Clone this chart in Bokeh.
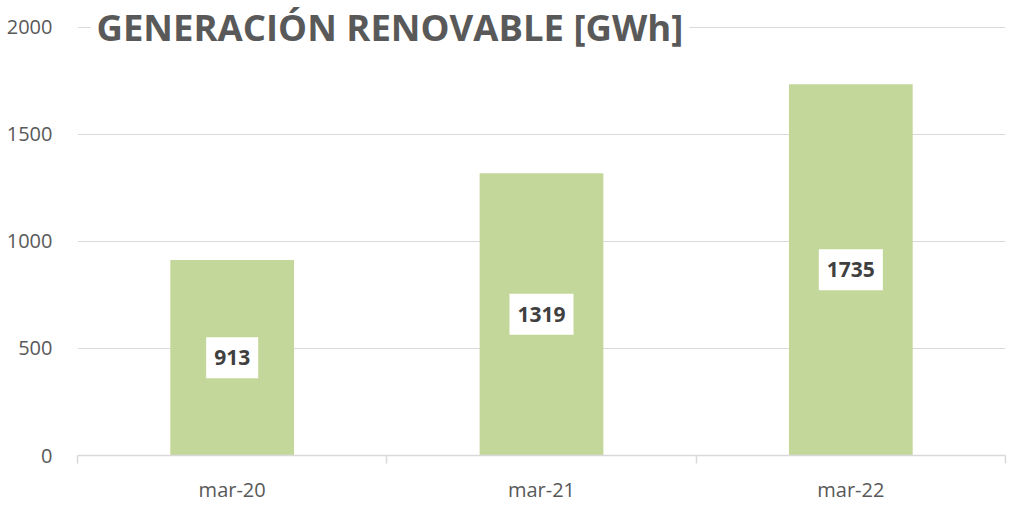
from bokeh.plotting import figure
from bokeh.models import ColumnDataSource, Label, Range1d, FixedTicker
from bokeh.embed import file_html
from bokeh.resources import INLINE

categories = ["mar-20", "mar-21", "mar-22"]
values = [913, 1319, 1735]
y_ticks = [0, 500, 1000, 1500, 2000]
title_text = "GENERACIÓN RENOVABLE [GWh]"

FONT = "Open Sans"
GRAY = "#595959"
GRID = "#d9d9d9"
GREEN = "#c4d79b"

xs = [i + 0.5 for i in range(len(categories))]
src = ColumnDataSource(dict(x=xs, top=values))

p = figure(width=1013, height=505, output_backend="svg", toolbar_location=None,
           x_range=Range1d(0, len(categories)), y_range=Range1d(0, 2107),
           min_border_left=77, min_border_right=8, min_border_top=4, min_border_bottom=48)
p.outline_line_color = None
p.background_fill_color = "white"
p.border_fill_color = "white"

p.vbar(x="x", top="top", width=0.4, source=src, fill_color=GREEN, line_color=None)

# grid
p.xgrid.grid_line_color = None
p.ygrid.ticker = FixedTicker(ticks=y_ticks)
p.ygrid.grid_line_color = GRID
p.ygrid.grid_line_width = 1

# y axis
ya = p.yaxis[0]
ya.ticker = FixedTicker(ticks=y_ticks)
ya.axis_line_color = None
ya.major_tick_line_color = None
ya.minor_tick_line_color = None
ya.major_label_text_font = FONT
ya.major_label_text_font_size = "20px"
ya.major_label_text_color = GRAY
ya.major_label_standoff = 19

# x axis: labels at category centres, ticks at boundaries
xa = p.xaxis[0]
xa.ticker = FixedTicker(ticks=xs, minor_ticks=list(range(len(categories) + 1)))
xa.major_label_overrides = {x: c for x, c in zip(xs, categories)}
xa.axis_line_color = GRID
xa.axis_line_width = 1.5
xa.major_tick_line_color = None
xa.major_tick_out = 0
xa.major_tick_in = 0
xa.minor_tick_line_color = GRID
xa.minor_tick_line_width = 1.5
xa.minor_tick_out = 8
xa.minor_tick_in = 0
xa.major_label_text_font = FONT
xa.major_label_text_font_size = "20px"
xa.major_label_text_color = GRAY
xa.major_label_standoff = 12

# title sitting on the top gridline
p.add_layout(Label(x=0.042, y=y_ticks[-1], text=title_text, text_font=FONT,
                   text_font_size="36.5px", text_font_style="bold", text_color=GRAY,
                   text_align="left", text_baseline="middle",
                   background_fill_color="white",
                   padding=dict(left=6, right=6, top=0, bottom=0)))

# value labels
for x, v in zip(xs, values):
    p.add_layout(Label(x=x, y=v / 2, text=str(v), text_font=FONT,
                       text_font_size="21px", text_font_style="bold", text_color="#404040",
                       text_align="center", text_baseline="middle",
                       background_fill_color="white",
                       padding=dict(left=8, right=8, top=13, bottom=13)))

open("out.html", "w").write(file_html(p, INLINE))
